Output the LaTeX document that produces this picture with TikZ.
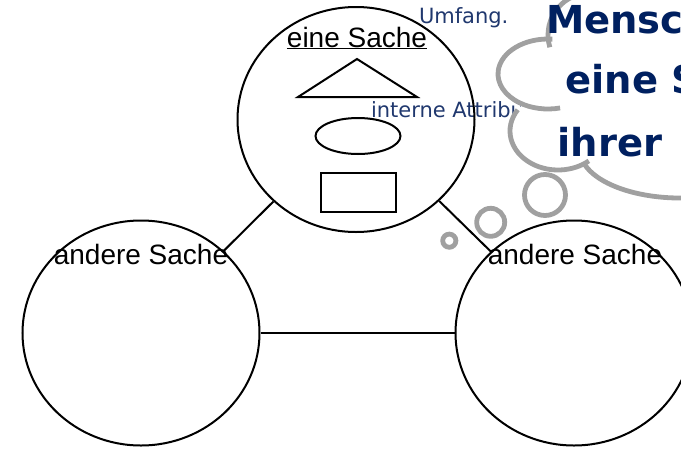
\documentclass[tikz,border=0pt]{standalone}
\usepackage{fontspec}
\setmainfont{Liberation Sans}
\newfontfamily\dejavu{DejaVu Sans}
\usetikzlibrary{positioning,shapes.geometric,calc}
\definecolor{deepblue}{RGB}{0,32,96}
\definecolor{midblue}{RGB}{32,56,110}
\definecolor{wolkengrau}{RGB}{160,160,160}

\begin{document}
\begin{tikzpicture}[x=1pt, y=-1pt, line width=2pt]
    \tikzstyle{sache} = [ellipse, draw=black, minimum width=237, minimum height=225, inner sep=0];
    \tikzstyle{sachname} = [inner sep=0, anchor=base, font=\fontsize{28}{30}\selectfont];
    \tikzstyle{hinweis} = [inner sep=0, anchor=base west, text=midblue, font=\dejavu\fontsize{21}{24}\selectfont];
    \tikzstyle{gedanke} = [inner sep=0, anchor=base west, text=deepblue, font=\dejavu\bfseries\fontsize{38.5}{40}\selectfont];
    \tikzstyle{wolke} = [draw=wolkengrau, line width=4.8pt];

    \useasboundingbox (0,0) rectangle (681,448);
    \clip (0,0) rectangle (681,448);

    % texts half hidden by the cloud
    \node [hinweis] (umfang) at (418,23) {Umfang.};
    \node [hinweis] (intern) at (370,117) {interne Attribu};

    \node [sache] (eine) at (356,119.5) {};
    \node [sache] (andere1) at (141,333) {};
    \node [sache] (andere2) at (574,333) {};

    \draw (eine) -- (andere1);
    \draw (eine) -- (andere2);
    \draw (andere1) -- (andere2);

    \node [sachname] (eineName) at ($(eine.north)+(1,41)$) {\underline{eine Sache}};
    \node [sachname] (andereName1) at ($(andere1.north)+(0,45)$) {andere Sache};
    \node [sachname] (andereName2) at ($(andere2.north)+(1,45)$) {andere Sache};

    % attributes inside the thing
    \coordinate (spitze) at ($(eine)+(1,-60.5)$);
    \draw [line join=miter] (spitze) -- ($(eine)+(61,-22.5)$) -- ($(eine)+(-58,-22.5)$) -- cycle;
    \node [ellipse, draw, minimum width=85, minimum height=36] (oval) at ($(eine)+(2,16.5)$) {};
    \node [draw, minimum width=75, minimum height=39] (kasten) at ($(eine)+(2.5,73)$) {};

    % thought cloud
    \fill [white] (590,-10) -- (700,-10) -- (700,150) -- (680,150) -- (558,131) -- (548,74) -- (590,35) -- cycle;
    \fill [white] (590,35) circle [radius=42];
    \fill [white] (548,74) ellipse [x radius=50, y radius=35];
    \fill [white] (558,131) ellipse [x radius=48, y radius=39];
    \fill [white] (680,150) ellipse [x radius=100, y radius=48];
    \draw [wolke] (590,35) ++(163:42) arc [start angle=163, end angle=260, radius=42];
    \draw [wolke] (548,74) ++(275:50 and 35) arc [start angle=275, end angle=76, x radius=50, y radius=35];
    \draw [wolke] (558,131) ++(213:48 and 39) arc [start angle=213, end angle=50, x radius=48, y radius=39];
    \draw [wolke] (680,150) ++(162:100 and 48) arc [start angle=162, end angle=40, x radius=100, y radius=48];
    \draw [wolke] (449.3,240.7) circle [radius=6.6];
    \draw [wolke] (490.7,222.3) circle [radius=14];
    \draw [wolke] (545,195) circle [radius=20.5];

    \node [gedanke] (zeile1) at (545,33) {Mensc};
    \node [gedanke] (zeile2) at (564.5,93.5) {eine S};
    \node [gedanke] (zeile3) at (556.5,156.5) {ihrer};
\end{tikzpicture}
\end{document}
